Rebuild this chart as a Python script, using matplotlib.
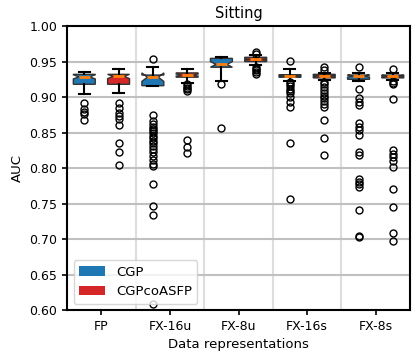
import matplotlib
matplotlib.use("Agg")
import matplotlib.pyplot as plt
from matplotlib.patches import Patch

groups = ["FP", "FX-16u", "FX-8u", "FX-16s", "FX-8s"]

# per-method box statistics, one entry per data representation
cgp_med = [0.9285, 0.9280, 0.9460, 0.9296, 0.9296]
cgp_q1 = [0.9180, 0.9160, 0.9420, 0.9280, 0.9250]
cgp_q3 = [0.9320, 0.9310, 0.9545, 0.9315, 0.9310]
cgp_whislo = [0.9050, 0.9160, 0.9225, 0.9230, 0.9225]
cgp_whishi = [0.9357, 0.9420, 0.9560, 0.9395, 0.9340]
cgp_notch = [0.0030, 0.0060, 0.0040, 0.0010, 0.0015]
cgp_fliers = [
    [0.891, 0.883, 0.879, 0.876, 0.868],
    [0.954, 0.875, 0.866, 0.862, 0.858, 0.855, 0.852, 0.849, 0.845, 0.842,
     0.838, 0.835, 0.831, 0.827, 0.822, 0.817, 0.811, 0.806, 0.803,
     0.777, 0.747, 0.734, 0.608],
    [0.919, 0.857],
    [0.951, 0.921, 0.918, 0.915, 0.912, 0.909, 0.906, 0.900, 0.893, 0.886,
     0.835, 0.756],
    [0.943, 0.912, 0.898, 0.893, 0.889, 0.864, 0.858, 0.853, 0.847, 0.823,
     0.818, 0.785, 0.781, 0.777, 0.773, 0.741, 0.705, 0.703],
]

coa_med = [0.9290, 0.9310, 0.9530, 0.9296, 0.9296]
coa_q1 = [0.9180, 0.9280, 0.9500, 0.9270, 0.9270]
coa_q3 = [0.9320, 0.9340, 0.9560, 0.9320, 0.9310]
coa_whislo = [0.9060, 0.9200, 0.9450, 0.9240, 0.9240]
coa_whishi = [0.9400, 0.9390, 0.9590, 0.9340, 0.9340]
coa_notch = [0.0030, 0.0015, 0.0010, 0.0010, 0.0010]
coa_fliers = [
    [0.892, 0.884, 0.878, 0.873, 0.869, 0.861, 0.835, 0.822, 0.805],
    [0.918, 0.915, 0.913, 0.911, 0.909, 0.840, 0.830, 0.821],
    [0.963, 0.961, 0.943, 0.940, 0.938, 0.935, 0.933],
    [0.943, 0.938, 0.921, 0.918, 0.914, 0.910, 0.906, 0.902, 0.898, 0.894,
     0.890, 0.886, 0.868, 0.843, 0.819],
    [0.940, 0.922, 0.920, 0.918, 0.897, 0.825, 0.820, 0.815, 0.810, 0.802,
     0.770, 0.745, 0.708, 0.697],
]


def make_stats(med, q1, q3, lo, hi, notch, fliers):
    stats = []
    for i in range(len(med)):
        stats.append({
            "med": med[i], "q1": q1[i], "q3": q3[i],
            "whislo": lo[i], "whishi": hi[i],
            "cilo": med[i] - notch[i], "cihi": med[i] + notch[i],
            "fliers": fliers[i],
        })
    return stats


fig = plt.figure(figsize=(4.12, 3.52), dpi=100)
ax = fig.add_axes([0.163, 0.119, 0.832, 0.807])

centers = list(range(1, len(groups) + 1))
common = dict(
    widths=0.32,
    shownotches=True,
    patch_artist=True,
    medianprops=dict(color="#ff7f0e", linewidth=2),
    whiskerprops=dict(color="black", linewidth=1.5),
    capprops=dict(color="black", linewidth=1.5),
    flierprops=dict(marker="o", markerfacecolor="none",
                    markeredgecolor="black", markersize=5, markeredgewidth=1),
)
b1 = ax.bxp(make_stats(cgp_med, cgp_q1, cgp_q3, cgp_whislo, cgp_whishi,
                       cgp_notch, cgp_fliers),
            positions=[c - 0.25 for c in centers],
            boxprops=dict(facecolor="#1f77b4", edgecolor="#333333"), **common)
b2 = ax.bxp(make_stats(coa_med, coa_q1, coa_q3, coa_whislo, coa_whishi,
                       coa_notch, coa_fliers),
            positions=[c + 0.25 for c in centers],
            boxprops=dict(facecolor="#d62728", edgecolor="#333333"), **common)

ax.set_xlim(0.5, len(groups) + 0.5)
ax.set_ylim(0.60, 1.00)
ax.set_xticks(centers)
ax.set_xticklabels(groups)
ax.set_yticks([0.60, 0.65, 0.70, 0.75, 0.80, 0.85, 0.90, 0.95, 1.00])

ax.yaxis.grid(True, color="#c0c0c0", linewidth=1.5)
for c in centers[:-1]:
    ax.axvline(c + 0.5, color="#dddddd", linewidth=1.5, zorder=0)
ax.set_axisbelow(True)

for s in ax.spines.values():
    s.set_linewidth(1.5)
ax.tick_params(width=1.2, labelsize=9)

ax.set_title("Sitting", fontsize=10.5)
ax.set_ylabel("AUC", fontsize=9.5)
ax.set_xlabel("Data representations", fontsize=9.5)

handles = [Patch(facecolor="#1f77b4", label="CGP"),
           Patch(facecolor="#d62728", label="CGPcoASFP")]
ax.legend(handles=handles, loc="lower left", fontsize=9.5)

fig.savefig("out.png", dpi=100)
